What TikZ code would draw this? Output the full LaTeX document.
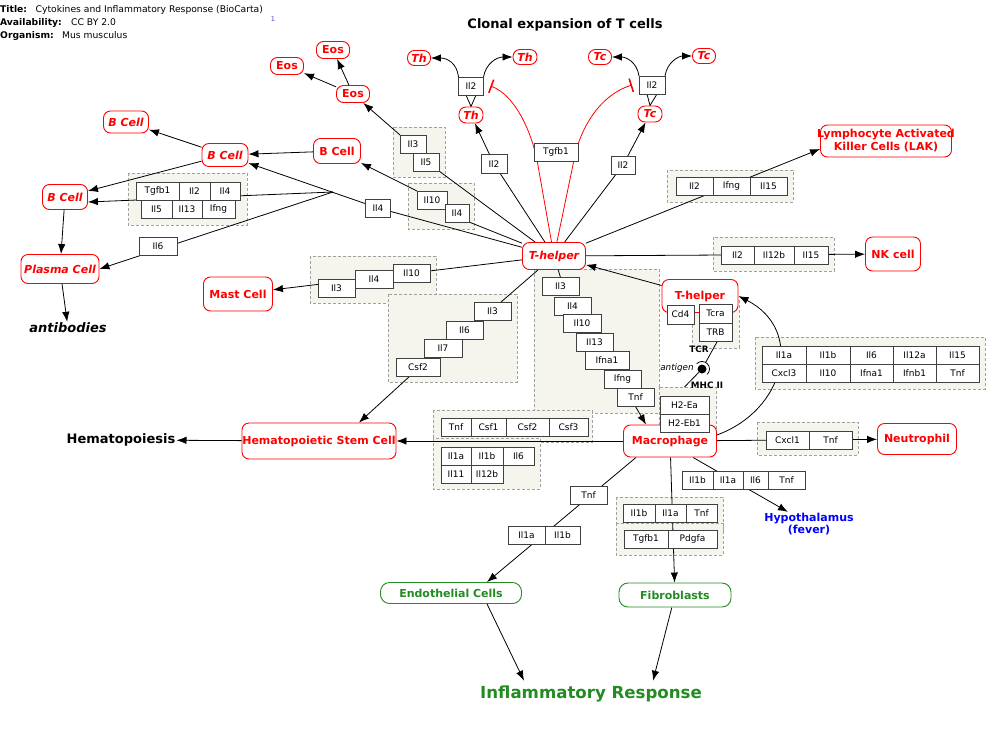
\documentclass[tikz,border=0pt]{standalone}
\usepackage{fontspec}
\setmainfont{DejaVu Sans}
\usepackage{tikz}
\usetikzlibrary{arrows.meta,positioning}
\definecolor{grpfill}{RGB}{245,245,237}
\definecolor{grpline}{RGB}{160,160,160}
\definecolor{cellgreen}{RGB}{34,139,34}
\definecolor{refblue}{RGB}{70,70,200}
\pgfdeclarelayer{groups}
\pgfdeclarelayer{links}
\pgfsetlayers{groups,links,main}

\begin{document}
\begin{tikzpicture}[
  x=1pt, y=-1pt,
  hdr/.style={inner sep=0pt, anchor=west, font=\fontsize{9.2}{11}\selectfont},
  gene/.style={
    draw=black!75,
    line width=0.9pt,
    fill=white,
    inner sep=0pt,
    outer sep=0pt,
    minimum height=18pt,
    font=\fontsize{9}{10}\selectfont
  },
  cell/.style={
    draw=red,
    line width=0.9pt,
    fill=white,
    text=red,
    rounded corners=7pt,
    inner sep=1pt,
    align=center,
    font=\fontsize{11}{13}\selectfont\bfseries
  },
  icell/.style={cell, font=\fontsize{11}{13}\selectfont\bfseries\itshape},
  gcell/.style={cell, draw=cellgreen, text=cellgreen, rounded corners=9pt},
  lbl/.style={inner sep=1pt, font=\fontsize{13}{15}\selectfont\bfseries},
  tag/.style={inner sep=0pt, font=\fontsize{8.8}{10}\selectfont\bfseries},
  grp/.style={draw=grpline, fill=grpfill, line width=0.8pt, dash pattern=on 3pt off 2pt},
  link/.style={line width=0.8pt},
  arr/.style={link, -{Latex[length=10pt,width=7.5pt]}},
  inh/.style={link, red, -{Bar[width=14pt,line width=1.6pt]}}
]
\useasboundingbox (0,0) rectangle (1000,731);

% backdrop and dashed complexes
\begin{pgfonlayer}{groups}
\fill[white] (0,0) rectangle (1000,731);
\draw[grp] (393,127) rectangle (445,177);
\draw[grp] (408,183) rectangle (474,229);
\draw[grp] (128,173) rectangle (247,225);
\draw[grp] (310,256) rectangle (436,303);
\draw[grp] (388,294) rectangle (517,382);
\draw[grp] (534,269) rectangle (659,413);
\draw[grp] (692,300) rectangle (739,348);
\draw[grp] (659,387) rectangle (716,432);
\draw[grp] (433,410) rectangle (592,442);
\draw[grp] (433,438) rectangle (540,489);
\draw[grp] (667,170) rectangle (793,202);
\draw[grp] (713,237) rectangle (834,271);
\draw[grp] (755,337) rectangle (985,389);
\draw[grp] (757,422) rectangle (858,455);
\draw[grp] (616,497) rectangle (723,531);
\draw[grp] (616,523) rectangle (723,555);
\end{pgfonlayer}

% header
\node[hdr] (hTitle) at (0,9.5) {\bfseries Title:};
\node[hdr] (hTitleV) at (35.5,9.5) {Cytokines and Inflammatory Response (BioCarta)};
\node[hdr] (hAvail) at (0,22.5) {\bfseries Availability:};
\node[hdr] (hAvailV) at (71,22.5) {CC BY 2.0};
\node[hdr] (hOrg) at (0,35.5) {\bfseries Organism:};
\node[hdr] (hOrgV) at (62,35.5) {Mus musculus};
\node[inner sep=0pt, text=refblue, font=\fontsize{6.5}{7}\selectfont] (hRef) at (273,19) {1};
\node[lbl] (clonal) at (565,25) {Clonal expansion of T cells};

% cells
\node[icell, minimum width=23pt, minimum height=15pt] (thA) at (419,58) {Th};
\node[icell, minimum width=24pt, minimum height=15pt] (thC) at (525,57) {Th};
\node[icell, minimum width=23pt, minimum height=15pt] (tcA) at (600,57) {Tc};
\node[icell, minimum width=23pt, minimum height=15pt] (tcC) at (704,56) {Tc};
\node[icell, minimum width=24pt, minimum height=16pt] (thB) at (471,115) {Th};
\node[icell, minimum width=24pt, minimum height=16pt] (tcB) at (650,114) {Tc};
\node[cell, minimum width=33pt, minimum height=17pt] (eosTop) at (333,50) {Eos};
\node[cell, minimum width=33pt, minimum height=17pt] (eosLeft) at (287,66) {Eos};
\node[cell, minimum width=33pt, minimum height=17pt] (eosMid) at (353,94) {Eos};
\node[icell, minimum width=45pt, minimum height=22pt] (bcellA) at (126,122) {B Cell};
\node[icell, minimum width=46pt, minimum height=23pt] (bcellB) at (225,155) {B Cell};
\node[cell, minimum width=47pt, minimum height=25pt] (bcellC) at (337,151) {B Cell};
\node[icell, minimum width=45pt, minimum height=25pt] (bcellD) at (65,197) {B Cell};
\node[icell, minimum width=78pt, minimum height=29pt] (plasma) at (60,269) {Plasma Cell};
\node[cell, minimum width=69pt, minimum height=34pt] (mast) at (238,294) {Mast Cell};
\node[icell, minimum width=63pt, minimum height=27pt] (thelp) at (554,256) {T-helper};
\node[cell, minimum width=76pt, minimum height=33pt] (thup) at (700,296) {T-helper};
\node[cell, minimum width=131pt, minimum height=32pt] (lak) at (886,141)
  {\makebox[124pt]{Lymphocyte Activated}\\\makebox[124pt]{Killer Cells (LAK)}};
\node[cell, minimum width=55pt, minimum height=34pt] (nk) at (893,254) {NK cell};
\node[cell, minimum width=79pt, minimum height=31pt] (neutro) at (917,439) {Neutrophil};
\node[cell, minimum width=93pt, minimum height=32pt] (macro) at (670,441) {Macrophage};
\node[cell, minimum width=154pt, minimum height=36pt] (hsc) at (319,441)
  {\makebox[148pt]{Hematopoietic Stem Cell}};
\node[gcell, minimum width=141pt, minimum height=21pt] (endo) at (451,593) {Endothelial Cells};
\node[gcell, minimum width=112pt, minimum height=24pt] (fibro) at (675,595) {Fibroblasts};

\node[lbl] (hemat) at (121,440) {Hematopoiesis};
\node[lbl, font=\fontsize{13}{15}\selectfont\bfseries\itshape] (antib) at (68,328) {antibodies};
\node[inner sep=1pt, align=center, text=blue, font=\fontsize{11}{12}\selectfont\bfseries] (hypo) at (809,524) {Hypothalamus\\(fever)};
\node[inner sep=1pt, text=cellgreen, font=\fontsize{16.6}{19}\selectfont\bfseries] (inflam) at (591,694) {Inflammatory Response};

% genes
\node[gene, minimum width=25pt] (il2L) at (471,86) {Il2};
\node[gene, minimum width=26pt] (il2R) at (652,85) {Il2};
\node[gene, minimum width=26pt, minimum height=19pt] (il2c) at (494,164) {Il2};
\node[gene, minimum width=44pt] (tgfb) at (556,152) {Tgfb1};
\node[gene, minimum width=24pt] (il2d) at (623,165) {Il2};

\node[gene, minimum width=26pt] (il3a) at (413,144) {Il3};
\node[gene, minimum width=26pt] (il5a) at (426,162) {Il5};
\node[gene, minimum width=30pt] (il10b) at (432,200) {Il10};
\node[gene, minimum width=24pt] (il4b) at (457,213) {Il4};
\node[gene, minimum width=25pt] (il4s) at (378,208) {Il4};

\node[gene, minimum width=43pt] (tgfbA) at (157.5,191) {Tgfb1};
\node[gene, minimum width=31pt, right=0pt of tgfbA] (il2A) {Il2};
\node[gene, minimum width=30pt, right=0pt of il2A] (il4A) {Il4};
\node[gene, minimum width=31pt] (il5A) at (156.5,209) {Il5};
\node[gene, minimum width=30pt, right=0pt of il5A] (il13A) {Il13};
\node[gene, minimum width=33pt, right=0pt of il13A] (ifngA) {Ifng};
\node[gene, minimum width=38pt] (il6s) at (158,246) {Il6};

\node[gene, minimum width=37pt] (il3m) at (336.5,288.5) {Il3};
\node[gene, minimum width=38pt] (il4m) at (374,279.5) {Il4};
\node[gene, minimum width=37pt] (il10m) at (411.5,273.5) {Il10};

\node[gene, minimum width=37pt] (il3g) at (492.5,311.5) {Il3};
\node[gene, minimum width=37pt] (il6g) at (464.5,330) {Il6};
\node[gene, minimum width=38pt] (il7g) at (443,348.5) {Il7};
\node[gene, minimum width=44pt] (csf2g) at (418,367) {Csf2};

\node[gene, minimum width=37pt] (il3s) at (560.5,286.5) {Il3};
\node[gene, minimum width=37pt] (il4t) at (572.5,306.5) {Il4};
\node[gene, minimum width=38pt] (il10s) at (582,323.5) {Il10};
\node[gene, minimum width=37pt] (il13s) at (594.5,342) {Il13};
\node[gene, minimum width=44pt] (ifna1s) at (607,360) {Ifna1};
\node[gene, minimum width=37pt] (ifngs) at (622.5,379) {Ifng};
\node[gene, minimum width=37pt] (tnfs) at (635.5,397.5) {Tnf};

\node[gene, minimum width=27pt, minimum height=19pt] (cd4) at (680.5,314.5) {Cd4};
\node[gene, minimum width=33pt, minimum height=19pt] (tcra) at (715.5,313.5) {Tcra};
\node[gene, minimum width=33pt, below=0pt of tcra] (trb) {TRB};
\node[gene, minimum width=49pt] (h2ea) at (684.5,405) {H2-Ea};
\node[gene, minimum width=49pt, below=0pt of h2ea] (h2eb) {H2-Eb1};

\node[gene, minimum width=30pt] (tnfA) at (456,427.5) {Tnf};
\node[gene, minimum width=35pt, right=0pt of tnfA] (csf1) {Csf1};
\node[gene, minimum width=43pt, right=0pt of csf1] (csf2A) {Csf2};
\node[gene, minimum width=39pt, right=0pt of csf2A] (csf3) {Csf3};
\node[gene, minimum width=30pt] (il1aA) at (456,456) {Il1a};
\node[gene, minimum width=32pt, right=0pt of il1aA] (il1bA) {Il1b};
\node[gene, minimum width=31pt, right=0pt of il1bA] (il6A) {Il6};
\node[gene, minimum width=30pt, below=0pt of il1aA] (il11) {Il11};
\node[gene, minimum width=32pt, right=0pt of il11] (il12bA) {Il12b};

\node[gene, minimum width=37pt] (tnfE) at (588.5,495) {Tnf};
\node[gene, minimum width=37pt] (il1aE) at (526.5,535) {Il1a};
\node[gene, minimum width=35pt, right=0pt of il1aE] (il1bE) {Il1b};

\node[gene, minimum width=31pt] (il1bH) at (697.5,480) {Il1b};
\node[gene, minimum width=30pt, right=0pt of il1bH] (il1aH) {Il1a};
\node[gene, minimum width=25pt, right=0pt of il1aH] (il6H) {Il6};
\node[gene, minimum width=37pt, right=0pt of il6H] (tnfH) {Tnf};

\node[gene, minimum width=32pt] (il1bF) at (639,513.5) {Il1b};
\node[gene, minimum width=31pt, right=0pt of il1bF] (il1aF) {Il1a};
\node[gene, minimum width=31pt, right=0pt of il1aF] (tnfF) {Tnf};
\node[gene, minimum width=44pt] (tgfbF) at (646,539) {Tgfb1};
\node[gene, minimum width=49pt, right=0pt of tgfbF] (pdgfa) {Pdgfa};

\node[gene, minimum width=37pt] (il2K) at (694.5,186.5) {Il2};
\node[gene, minimum width=37pt, right=0pt of il2K] (ifngK) {Ifng};
\node[gene, minimum width=37pt, right=0pt of ifngK] (il15K) {Il15};
\node[gene, minimum width=33pt] (il2N) at (737.5,255) {Il2};
\node[gene, minimum width=40pt, right=0pt of il2N] (il12bN) {Il12b};
\node[gene, minimum width=34pt, right=0pt of il12bN] (il15N) {Il15};

\node[gene, minimum width=44pt] (cyA1) at (784,355) {Il1a};
\node[gene, minimum width=44pt, right=0pt of cyA1] (cyA2) {Il1b};
\node[gene, minimum width=43pt, right=0pt of cyA2] (cyA3) {Il6};
\node[gene, minimum width=43pt, right=0pt of cyA3] (cyA4) {Il12a};
\node[gene, minimum width=43pt, right=0pt of cyA4] (cyA5) {Il15};
\node[gene, minimum width=44pt, below=0pt of cyA1] (cyB1) {Cxcl3};
\node[gene, minimum width=44pt, right=0pt of cyB1] (cyB2) {Il10};
\node[gene, minimum width=43pt, right=0pt of cyB2] (cyB3) {Ifna1};
\node[gene, minimum width=43pt, right=0pt of cyB3] (cyB4) {Ifnb1};
\node[gene, minimum width=43pt, right=0pt of cyB4] (cyB5) {Tnf};

\node[gene, minimum width=43pt] (cxcl1) at (787.5,440) {Cxcl1};
\node[gene, minimum width=43pt, right=0pt of cxcl1] (tnfN) {Tnf};

% receptor
\node[circle, fill=black, inner sep=0pt, minimum size=9pt] (tcrdot) at (702,369) {};
\node[tag] (tcrLbl) at (699,349) {TCR};
\node[tag, font=\fontsize{8.8}{10}\selectfont\itshape] (antLbl) at (677,368) {antigen};
\node[tag] (mhcLbl) at (707,385) {MHC II};

\coordinate (tgL) at (537,160);
\coordinate (tgR) at (574,160);
\coordinate (jn) at (333,192);

\begin{pgfonlayer}{links}
% clonal expansion
\draw[arr] (il2L.north west) .. controls (457,63) and (447,58) .. (thA.east);
\draw[arr] (il2L.north east) .. controls (486,63) and (497,57) .. (thC.west);
\draw[arr] (il2R.north west) .. controls (637,62) and (626,57) .. (tcA.east);
\draw[arr] (il2R.north east) .. controls (667,62) and (679,56) .. (tcC.west);
\draw[link] ([xshift=-5pt]il2L.south) -- (thB.north) -- ([xshift=5pt]il2L.south);
\draw[link] ([xshift=-5pt]il2R.south) -- (tcB.north) -- ([xshift=5pt]il2R.south);

% T-helper
\draw[arr] (thelp) -- (il2c.center) -- (thB);
\draw[arr] (thelp) -- (il2d.center) -- (tcB);
\draw[inh] (thelp) -- (tgL) .. controls (531,131) and (515,95) .. ([xshift=7pt]il2L.east);
\draw[inh] (thelp) -- (tgR) .. controls (580,128) and (600,95) .. ([xshift=-7pt]il2R.west);
\draw[link] (thelp) -- (il5a.south east);
\draw[arr] (il3a.north west) -- (eosMid);
\draw[link] (thelp) -- (il4b.south east);
\draw[arr] (il10b.north west) -- (bcellC);
\draw[arr] (thelp) -- (il4s.center) -- (bcellB);
\draw[arr] (jn) -- ([yshift=-5pt]bcellD.east);
\draw[arr] (jn) -- (plasma.east);
\draw[arr] (thelp) -- (mast);
\draw[link] (thelp) -- ([xshift=8pt]il3g.north);
\draw[arr] ([xshift=-8pt]csf2g.south) -- ([xshift=40pt]hsc.north);
\draw[link] (thelp) -- (il3s.north);
\draw[arr] (tnfs.south) -- ([xshift=-24pt]macro.north);
\draw[arr] (thup) -- (thelp);
\draw[arr] (thelp) -- ([yshift=-8pt]lak.west);
\draw[arr] (thelp) -- (nk);

% macrophage
\draw[arr] (macro) -- (hsc);
\draw[arr] (hsc) -- (hemat);
\draw[arr] (macro) -- (neutro);
\draw[arr] ([yshift=6pt]macro.east) .. controls (785,410) and (805,330) .. (thup.east);
\draw[arr] ([xshift=-34pt]macro.south) -- ([xshift=36pt]endo.north);
\draw[arr] (macro) -- (fibro);
\draw[arr] ([xshift=23pt]macro.south) -- (hypo);
\draw[arr] ([xshift=36pt]endo.south) -- ([xshift=-67pt,yshift=4pt]inflam.north);
\draw[arr] (fibro) -- ([xshift=62pt,yshift=4pt]inflam.north);

% eosinophils, B cells
\draw[arr] (eosMid) -- (eosLeft);
\draw[arr] (eosMid) -- (eosTop);
\draw[arr] (bcellC) -- (bcellB);
\draw[arr] (bcellB) -- (bcellA);
\draw[arr] (bcellB) -- (bcellD);
\draw[arr] (bcellD) -- (plasma);
\draw[arr] (plasma) -- (antib);

% TCR / MHC II
\draw[link, shorten >=3pt] ([xshift=2pt]trb.south) -- (tcrdot);
\draw[link] (tcrdot) -- ([yshift=9pt]h2ea.north);
\draw[link] (tcrdot.center) ++(135:7.5pt) arc[start angle=135, end angle=-45, radius=7.5pt];
\end{pgfonlayer}
\end{tikzpicture}
\end{document}
